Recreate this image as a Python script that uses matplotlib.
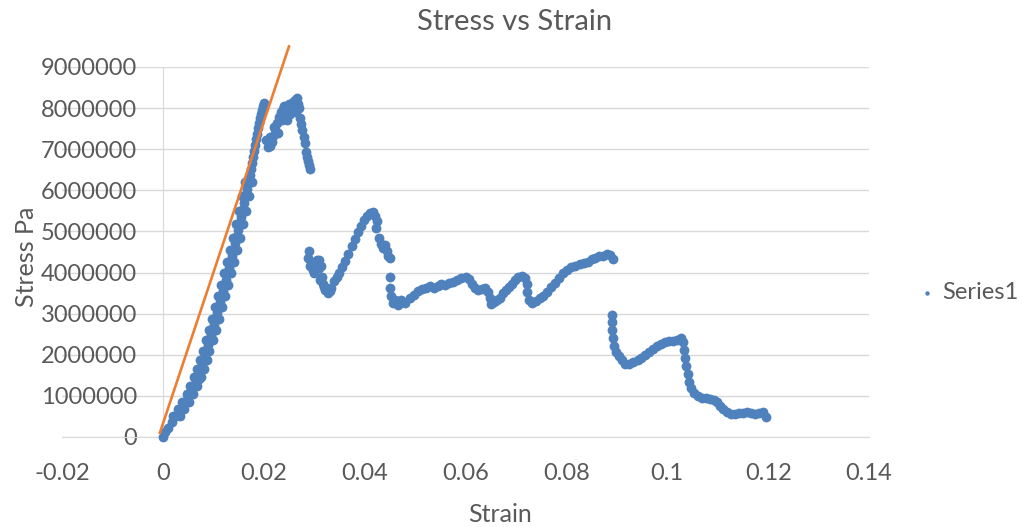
import matplotlib
matplotlib.use('Agg')
import matplotlib.pyplot as plt

# Stress vs strain readings (strain, stress in MPa)
strain = [
    0.0000, 0.0004, 0.0010, 0.0018, 0.0026, 0.0034, 0.0042, 0.0050, 0.0057, 0.0065,
    0.0071, 0.0077, 0.0083, 0.0089, 0.0095, 0.0101, 0.0107, 0.0113, 0.0119, 0.0125,
    0.0131, 0.0137, 0.0143, 0.0149, 0.0154, 0.0160, 0.0166, 0.0172, 0.0176, 0.0180,
    0.0184, 0.0188, 0.0192, 0.0196, 0.0200,
    # left side of the rising band
    0.0020, 0.0037, 0.0053, 0.0068, 0.0079, 0.0092, 0.0104, 0.0116, 0.0128, 0.0139,
    0.0151, 0.0163,
    0.0029, 0.0047, 0.0062, 0.0074, 0.0086, 0.0098, 0.0110, 0.0122, 0.0134, 0.0145,
    0.0157,
    # right side of the rising band
    0.0033, 0.0051, 0.0067, 0.0072, 0.0081, 0.0092, 0.0105, 0.0117, 0.0129, 0.0141,
    0.0152, 0.0164, 0.0176,
    0.0042, 0.0060, 0.0075, 0.0087, 0.0099, 0.0111, 0.0123, 0.0135, 0.0147, 0.0158,
    0.0170,
    0.0146, 0.0152, 0.0157, 0.0163, 0.0169, 0.0174, 0.0178, 0.0182, 0.0186, 0.0190,
    0.0194, 0.0198,
    # peak cluster
    0.0204, 0.0208, 0.0212, 0.0216, 0.0218, 0.0222, 0.0226, 0.0230, 0.0234, 0.0238,
    0.0242, 0.0244, 0.0248, 0.0251, 0.0255, 0.0257, 0.0261, 0.0265, 0.0267, 0.0263,
    0.0212, 0.0220, 0.0228, 0.0236, 0.0240, 0.0246, 0.0253, 0.0259, 0.0269,
    0.0271, 0.0273, 0.0275, 0.0279, 0.0281, 0.0283, 0.0285, 0.0287, 0.0289, 0.0291,
    # second hump
    0.0289, 0.0287, 0.0291, 0.0297, 0.0303, 0.0309, 0.0313,
    0.0293, 0.0299, 0.0305, 0.0309, 0.0315, 0.0319, 0.0325, 0.0331,
    0.0311, 0.0317, 0.0321, 0.0327, 0.0333,
    0.0339, 0.0345, 0.0350, 0.0356, 0.0362, 0.0368, 0.0374, 0.0380, 0.0386, 0.0392,
    0.0398, 0.0404, 0.0410, 0.0416, 0.0420, 0.0424, 0.0422,
    0.0428, 0.0432, 0.0436, 0.0440, 0.0444, 0.0446, 0.0450,
    # plateau
    0.0450, 0.0450, 0.0452, 0.0456, 0.0461, 0.0467, 0.0473, 0.0481, 0.0489, 0.0497,
    0.0505, 0.0513, 0.0521, 0.0529, 0.0537, 0.0545, 0.0552, 0.0560, 0.0568, 0.0576,
    0.0584, 0.0592, 0.0600, 0.0606, 0.0612, 0.0618, 0.0624, 0.0632, 0.0638, 0.0644,
    0.0648, 0.0651, 0.0657, 0.0663, 0.0669, 0.0675, 0.0681, 0.0687, 0.0693, 0.0699,
    0.0705, 0.0711, 0.0717, 0.0721, 0.0721, 0.0725, 0.0731, 0.0739, 0.0747, 0.0754,
    0.0762, 0.0770, 0.0778, 0.0786, 0.0794, 0.0802, 0.0810, 0.0818, 0.0826, 0.0834,
    0.0842, 0.0850, 0.0857, 0.0865, 0.0873, 0.0881, 0.0887, 0.0893,
    # final drop and tail
    0.0891, 0.0891, 0.0891, 0.0893, 0.0895, 0.0899, 0.0905, 0.0911, 0.0917, 0.0925,
    0.0933, 0.0941, 0.0948, 0.0956, 0.0964, 0.0972, 0.0980, 0.0988, 0.0996, 0.1004,
    0.1012, 0.1020, 0.1028, 0.1032, 0.1034, 0.1036, 0.1038, 0.1042, 0.1044, 0.1048,
    0.1053, 0.1061, 0.1069, 0.1077, 0.1085, 0.1093, 0.1099, 0.1105, 0.1111, 0.1119,
    0.1127, 0.1135, 0.1143, 0.1150, 0.1158, 0.1166, 0.1174, 0.1182, 0.1190, 0.1196,
]
stress_mpa = [
    0.00, 0.12, 0.22, 0.36, 0.51, 0.66, 0.80, 0.97, 1.17, 1.36,
    1.56, 1.78, 2.00, 2.24, 2.48, 2.75, 3.02, 3.28, 3.55, 3.82,
    4.11, 4.40, 4.72, 5.04, 5.35, 5.69, 6.03, 6.37, 6.67, 6.96,
    7.25, 7.52, 7.76, 7.95, 8.12,
    0.50, 0.85, 1.25, 1.65, 2.10, 2.60, 3.15, 3.70, 4.25, 4.85,
    5.50, 6.20,
    0.68, 1.05, 1.45, 1.88, 2.35, 2.88, 3.42, 3.98, 4.55, 5.18,
    5.85,
    0.50, 0.85, 1.25, 1.40, 1.65, 2.10, 2.60, 3.15, 3.70, 4.25,
    4.85, 5.50, 6.20,
    0.68, 1.05, 1.45, 1.88, 2.35, 2.88, 3.42, 3.98, 4.55, 5.18,
    5.85,
    4.88, 5.20, 5.52, 5.86, 6.20, 6.52, 6.82, 7.10, 7.38, 7.64,
    7.86, 8.04,
    7.22, 7.05, 7.08, 7.18, 7.32, 7.49, 7.64, 7.78, 7.91, 7.98,
    7.95, 7.81, 8.05, 8.10, 8.00, 8.15, 8.20, 8.25, 8.10, 7.91,
    7.30, 7.55, 7.40, 7.70, 8.05, 7.70, 7.85, 7.95, 8.00,
    7.76, 7.61, 7.47, 7.30, 7.15, 6.93, 6.81, 6.71, 6.62, 6.52,
    4.52, 4.35, 4.16, 4.06, 4.16, 4.31, 4.16,
    4.25, 4.00, 4.30, 4.10, 3.90, 3.65, 3.62, 3.55,
    3.82, 3.72, 3.58, 3.50, 3.62,
    3.79, 3.89, 3.99, 4.14, 4.28, 4.45, 4.65, 4.82, 4.99, 5.13,
    5.28, 5.38, 5.45, 5.47, 5.38, 5.25, 5.08,
    4.84, 4.69, 4.60, 4.67, 4.52, 4.40, 4.35,
    3.89, 3.62, 3.43, 3.26, 3.33, 3.21, 3.33, 3.26, 3.38, 3.45,
    3.55, 3.60, 3.62, 3.67, 3.62, 3.67, 3.72, 3.70, 3.75, 3.77,
    3.82, 3.87, 3.89, 3.84, 3.72, 3.62, 3.58, 3.60, 3.62, 3.53,
    3.38, 3.24, 3.28, 3.33, 3.38, 3.50, 3.58, 3.65, 3.72, 3.82,
    3.89, 3.92, 3.87, 3.72, 3.53, 3.33, 3.26, 3.31, 3.38, 3.43,
    3.53, 3.65, 3.75, 3.87, 3.99, 4.06, 4.14, 4.16, 4.21, 4.23,
    4.26, 4.33, 4.35, 4.40, 4.40, 4.45, 4.43, 4.33,
    2.97, 2.80, 2.60, 2.41, 2.21, 2.07, 1.97, 1.87, 1.78, 1.78,
    1.82, 1.87, 1.92, 2.00, 2.07, 2.14, 2.21, 2.26, 2.31, 2.34,
    2.34, 2.36, 2.41, 2.31, 2.12, 1.92, 1.73, 1.53, 1.34, 1.19,
    1.07, 1.00, 0.95, 0.95, 0.92, 0.90, 0.85, 0.75, 0.68, 0.61,
    0.56, 0.56, 0.58, 0.58, 0.61, 0.58, 0.56, 0.58, 0.61, 0.49,
]
stress = [v * 1e6 for v in stress_mpa]

# hand drawn modulus line (orange)
line_strain = [-0.0006, 0.0250]
line_stress = [0.1e6, 9.5e6]

x_ticks = [-0.02, 0, 0.02, 0.04, 0.06, 0.08, 0.1, 0.12, 0.14]
y_ticks = [0, 1e6, 2e6, 3e6, 4e6, 5e6, 6e6, 7e6, 8e6, 9e6]

'------PLOT------'

plt.rcParams['font.family'] = ['Lato', 'DejaVu Sans']
txt = '#595959'
grid = '#D9D9D9'

fig = plt.figure(figsize=(10.23, 5.27), dpi=100)
ax = fig.add_axes([0.0606, 0.1708, 0.7889, 0.7021])

ax.scatter(strain, stress, s=50, color='#4F81BD', label='Series1',
           clip_on=False, zorder=3, linewidths=0)
ax.plot(line_strain, line_stress, color='#ED7D31', lw=1.9, clip_on=False, zorder=4)

ax.set_xlim(-0.02, 0.14)
ax.set_ylim(0, 9e6)
ax.set_xticks(x_ticks)
ax.set_xticklabels([f'{v:g}' for v in x_ticks])
ax.set_yticks(y_ticks)
ax.set_yticklabels([f'{int(v)}' for v in y_ticks])

# Excel style: vertical axis crossing at 0, only horizontal gridlines
ax.yaxis.grid(True, color=grid, lw=1.0)
ax.set_axisbelow(True)
for s in ['top', 'right']:
    ax.spines[s].set_visible(False)
ax.spines['left'].set_position(('data', 0))
ax.spines['left'].set_color(grid)
ax.spines['bottom'].set_color(grid)
ax.tick_params(length=0, labelsize=17, colors=txt, pad=18.5)

fig.text(0.503, 1 - 22 / 527, 'Stress vs Strain', ha='center', va='center',
         fontsize=21, color=txt)
fig.text(500 / 1023, 1 - 515 / 527, 'Strain', ha='center', va='center',
         fontsize=18, color=txt)
fig.text(27 / 1023, 1 - 257 / 527, 'Stress Pa', ha='center', va='center',
         rotation=90, fontsize=18, color=txt)

ax.legend(loc='center left', bbox_to_anchor=(0.899, 0.445),
          bbox_transform=fig.transFigure, frameon=False, fontsize=17,
          labelcolor=txt, markerscale=0.45, handletextpad=0.35,
          handlelength=0.6, borderpad=0, borderaxespad=0)

fig.savefig('out.png', dpi=100)
